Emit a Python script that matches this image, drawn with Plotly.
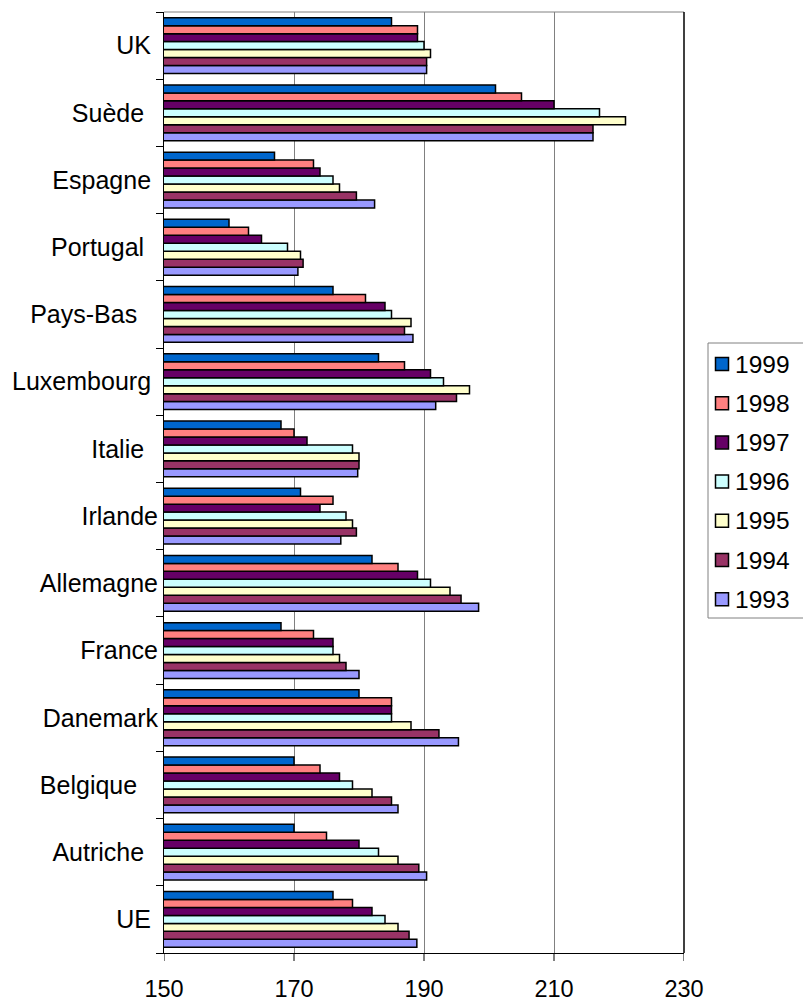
import plotly.graph_objects as go

# Countries, bottom to top (trailing spaces are part of the original labels)
countries = ["UE ", "Autriche  ", "Belgique   ", "Danemark", "France", "Allemagne",
             "Irlande", "Italie  ", "Luxembourg ", "Pays-Bas   ", "Portugal  ",
             "Espagne ", "Suède  ", "UK "]

years = ["1993", "1994", "1995", "1996", "1997", "1998", "1999"]

v1993 = [188.9, 190.4, 186.0, 195.3, 180.0, 198.4, 177.2, 179.8, 191.8, 188.3, 170.6, 182.4, 216.0, 190.4]
v1994 = [187.7, 189.2, 185.0, 192.3, 178.0, 195.7, 179.6, 180.0, 195.0, 187.0, 171.4, 179.6, 216.0, 190.4]
v1995 = [186.0, 186.0, 182.0, 188.0, 177.0, 194.0, 179.0, 180.0, 197.0, 188.0, 171.0, 177.0, 221.0, 191.0]
v1996 = [184.0, 183.0, 179.0, 185.0, 176.0, 191.0, 178.0, 179.0, 193.0, 185.0, 169.0, 176.0, 217.0, 190.0]
v1997 = [182.0, 180.0, 177.0, 185.0, 176.0, 189.0, 174.0, 172.0, 191.0, 184.0, 165.0, 174.0, 210.0, 189.0]
v1998 = [179.0, 175.0, 174.0, 185.0, 173.0, 186.0, 176.0, 170.0, 187.0, 181.0, 163.0, 173.0, 205.0, 189.0]
v1999 = [176.0, 170.0, 170.0, 180.0, 168.0, 182.0, 171.0, 168.0, 183.0, 176.0, 160.0, 167.0, 201.0, 185.0]

x_ticks = [150, 170, 190, 210, 230]

series = [v1993, v1994, v1995, v1996, v1997, v1998, v1999]
colors = ["#9999FF", "#993366", "#FFFFCC", "#CCFFFF", "#660066", "#FF8080", "#0066CC"]

FONT = "Liberation Sans, Arial, sans-serif"

W, H = 803, 1001
ML, MR, MT, MB = 164, 119, 12, 48
PW, PH = W - ML - MR, H - MT - MB


def px_x(px):
    """Pixel column -> paper x fraction."""
    return (px - ML) / PW


def px_y(py):
    """Pixel row (from top) -> paper y fraction."""
    return (H - MB - py) / PH


fig = go.Figure()
for yr, vals, col in zip(years, series, colors):
    fig.add_trace(go.Bar(
        y=countries, x=vals, name=yr, orientation="h",
        marker=dict(color=col, line=dict(color="black", width=1.5)),
        showlegend=False,
    ))

tick_text = [c.replace(" ", "\u00a0") for c in countries]

fig.update_layout(
    width=W, height=H,
    margin=dict(l=ML, r=MR, t=MT, b=MB, autoexpand=False),
    paper_bgcolor="white", plot_bgcolor="white",
    barmode="group", bargap=0.17, bargroupgap=0,
    font=dict(family=FONT, size=24, color="black"),
    showlegend=False,
    xaxis=dict(
        range=[x_ticks[0], x_ticks[-1]], tickmode="array", tickvals=x_ticks,
        showgrid=True, gridcolor="#808080", gridwidth=1,
        showline=True, linecolor="black", linewidth=1,
        # long transparent ticks give the labels their drop below the axis
        ticks="outside", ticklen=15, tickcolor="rgba(0,0,0,0)",
        tickfont=dict(family=FONT, size=23.5, color="black"),
        zeroline=False, fixedrange=True,
    ),
    yaxis=dict(
        type="category", tickmode="array", tickvals=countries, ticktext=tick_text,
        tickson="boundaries", ticks="outside", ticklen=7, tickcolor="black",
        showline=True, linecolor="black", linewidth=1,
        showgrid=False,
        tickfont=dict(family=FONT, size=25, color="black"),
        fixedrange=True,
    ),
)

# Short visible tick marks under the value axis
for t in x_ticks:
    fig.add_shape(type="line", xref="x", yref="paper", x0=t, x1=t,
                  y0=0, y1=-8 / PH, line=dict(color="black", width=1))

# Plot-area frame: grey top edge, dark right edge at 230
fig.add_shape(type="line", xref="paper", yref="paper", x0=0, x1=1, y0=1, y1=1,
              line=dict(color="#808080", width=1))
fig.add_shape(type="line", xref="paper", yref="paper", x0=1, x1=1, y0=0, y1=1,
              line=dict(color="black", width=1.5))

# Legend box with one swatch + label per year, newest year on top
fig.add_shape(type="rect", xref="paper", yref="paper",
              x0=px_x(708), x1=px_x(812), y0=px_y(618), y1=px_y(343),
              line=dict(color="#808080", width=1), fillcolor="white", layer="above")
legend_items = list(zip(years, colors))[::-1]
for i, (yr, col) in enumerate(legend_items):
    cy = 364 + i * 39.2
    fig.add_shape(type="rect", xref="paper", yref="paper",
                  x0=px_x(715.5), x1=px_x(728.5), y0=px_y(cy + 6.5), y1=px_y(cy - 6.5),
                  line=dict(color="black", width=1.5), fillcolor=col, layer="above")
    fig.add_annotation(xref="paper", yref="paper", x=px_x(733), y=px_y(cy),
                       xanchor="left", yanchor="middle", showarrow=False,
                       text=yr, font=dict(family=FONT, size=24.5, color="black"))

fig.write_html("out.html")
